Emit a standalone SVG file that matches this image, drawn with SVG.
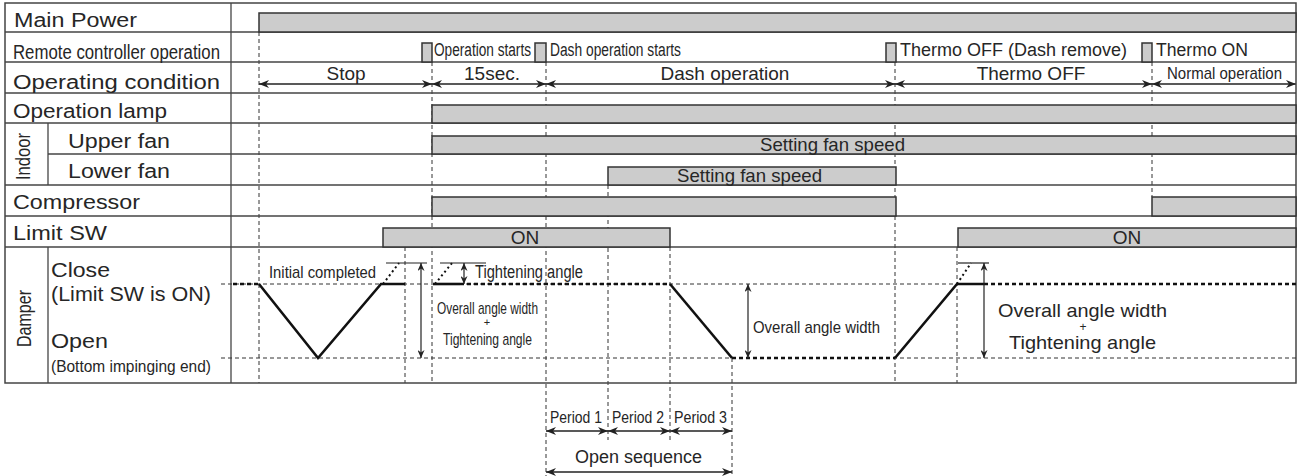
<svg xmlns="http://www.w3.org/2000/svg" width="1298" height="476" viewBox="0 0 1298 476">
<defs>
<style>
text{font-family:"Liberation Sans",Arial,sans-serif;fill:#262626;}
.lbl{font-size:20px;}
.sm{font-size:18px;}
.cond{font-size:18px;}
.frame{fill:none;stroke:#444;stroke-width:1.5;}
.row{stroke:#444;stroke-width:1.3;fill:none;}
.bar{fill:#cccccc;stroke:#333;stroke-width:1.5;}
.vd{stroke:#333;stroke-width:1;stroke-dasharray:4,3;fill:none;}
.ref{stroke:#333;stroke-width:1;stroke-dasharray:4,3;fill:none;}
.st{stroke:#111;stroke-width:2.6;stroke-dasharray:4,3;fill:none;}
.thick{stroke:#111;stroke-width:2.6;fill:none;stroke-linejoin:miter;}
.dot{stroke:#111;stroke-width:2;stroke-dasharray:2,3;fill:none;}
.dim{stroke:#222;stroke-width:1.2;fill:none;}
.arr{stroke:#222;stroke-width:1.5;fill:none;marker-start:url(#ah);marker-end:url(#ah);}
.darr{stroke:#222;stroke-width:1.2;fill:none;marker-start:url(#ah2);marker-end:url(#ah2);}
</style>
<marker id="ah" viewBox="0 0 10 8" refX="10" refY="4" markerWidth="10" markerHeight="8" orient="auto-start-reverse" markerUnits="userSpaceOnUse"><path d="M0,0 L10,4 L0,8 L3,4 z" fill="#222"/></marker>
<marker id="ah2" viewBox="0 0 8 7" refX="8" refY="3.5" markerWidth="8" markerHeight="7" orient="auto-start-reverse" markerUnits="userSpaceOnUse"><path d="M0,0 L8,3.5 L0,7 L2.5,3.5 z" fill="#222"/></marker>
</defs>
<rect width="1298" height="476" fill="#fff"/>

<g id="connectors">
<line class="vd" x1="259" y1="32" x2="259" y2="383"/>
<line class="vd" x1="405" y1="247" x2="405" y2="383"/>
<line class="vd" x1="432" y1="62" x2="432" y2="383"/>
<line class="vd" x1="546" y1="62" x2="546" y2="476"/>
<line class="vd" x1="608" y1="185" x2="608" y2="440"/>
<line class="vd" x1="670" y1="247" x2="670" y2="440"/>
<line class="vd" x1="732" y1="358" x2="732" y2="476"/>
<line class="vd" x1="895" y1="62" x2="895" y2="383"/>
<line class="vd" x1="957" y1="247" x2="957" y2="383"/>
<line class="vd" x1="1152" y1="62" x2="1152" y2="197"/>
<line class="arr" x1="259" y1="84" x2="432" y2="84"/>
<line class="arr" x1="432" y1="84" x2="546" y2="84"/>
<line class="arr" x1="546" y1="84" x2="895" y2="84"/>
<line class="arr" x1="895" y1="84" x2="1152" y2="84"/>
<line class="arr" x1="1152" y1="84" x2="1296" y2="84"/>
<line class="arr" x1="546" y1="431" x2="608" y2="431"/>
<line class="arr" x1="608" y1="431" x2="670" y2="431"/>
<line class="arr" x1="670" y1="431" x2="732" y2="431"/>
<line class="arr" x1="546" y1="472" x2="732" y2="472"/>
</g>

<g id="frame">
<rect class="frame" x="5" y="3" width="1291" height="380"/>
<line class="row" x1="231" y1="3" x2="231" y2="383"/>
<line class="row" x1="5" y1="32" x2="1296" y2="32"/>
<line class="row" x1="5" y1="62" x2="1296" y2="62"/>
<line class="row" x1="5" y1="93" x2="1296" y2="93"/>
<line class="row" x1="5" y1="123" x2="1296" y2="123"/>
<line class="row" x1="48" y1="154" x2="1296" y2="154"/>
<line class="row" x1="5" y1="185" x2="1296" y2="185"/>
<line class="row" x1="5" y1="216" x2="1296" y2="216"/>
<line class="row" x1="5" y1="247" x2="1296" y2="247"/>
<line class="row" x1="48" y1="123" x2="48" y2="185"/>
<line class="row" x1="48" y1="247" x2="48" y2="383"/>
</g>

<g id="main-power">
<text class="lbl" x="14" y="27" textLength="123" lengthAdjust="spacingAndGlyphs">Main Power</text>
<rect class="bar" x="259" y="13" width="1037" height="19"/>
</g>

<g id="remote">
<text class="lbl" x="13" y="59" textLength="207" lengthAdjust="spacingAndGlyphs">Remote controller operation</text>
<rect class="bar" x="422" y="43" width="10" height="19"/>
<text class="cond" x="434" y="56" textLength="97" lengthAdjust="spacingAndGlyphs">Operation starts</text>
<rect class="bar" x="535" y="43" width="11" height="19"/>
<text class="cond" x="550" y="56" textLength="131" lengthAdjust="spacingAndGlyphs">Dash operation starts</text>
<rect class="bar" x="886" y="43" width="10" height="19"/>
<text class="sm" x="900" y="56" textLength="227" lengthAdjust="spacingAndGlyphs">Thermo OFF (Dash remove)</text>
<rect class="bar" x="1142" y="43" width="10" height="19"/>
<text class="sm" x="1156" y="56" textLength="92" lengthAdjust="spacingAndGlyphs">Thermo ON</text>
</g>

<g id="operating-condition">
<text class="lbl" x="13" y="89" textLength="207" lengthAdjust="spacingAndGlyphs">Operating condition</text>
<text x="346" y="80" font-size="19" text-anchor="middle">Stop</text>
<text x="492" y="80" font-size="19" text-anchor="middle">15sec.</text>
<text x="725" y="80" font-size="19" text-anchor="middle">Dash operation</text>
<text x="1031" y="80" font-size="19" text-anchor="middle">Thermo OFF</text>
<text x="1167" y="79" font-size="17" textLength="115" lengthAdjust="spacingAndGlyphs">Normal operation</text>
</g>

<g id="operation-lamp">
<text class="lbl" x="13" y="118" textLength="154" lengthAdjust="spacingAndGlyphs">Operation lamp</text>
<rect class="bar" x="432" y="105" width="864" height="18"/>
</g>

<g id="indoor">
<text class="lbl" font-size="18" transform="translate(30,156.5) rotate(-90)" text-anchor="middle" textLength="47" lengthAdjust="spacingAndGlyphs">Indoor</text>
</g>

<g id="upper-fan">
<text class="lbl" x="68" y="148" textLength="102" lengthAdjust="spacingAndGlyphs">Upper fan</text>
<rect class="bar" x="432" y="136" width="864" height="18"/>
<text x="760" y="151" font-size="19" textLength="145" lengthAdjust="spacingAndGlyphs">Setting fan speed</text>
</g>

<g id="lower-fan">
<text class="lbl" x="68" y="178" textLength="102" lengthAdjust="spacingAndGlyphs">Lower fan</text>
<rect class="bar" x="608" y="167" width="288" height="18"/>
<text x="677" y="182" font-size="19" textLength="145" lengthAdjust="spacingAndGlyphs">Setting fan speed</text>
</g>

<g id="compressor">
<text class="lbl" x="13" y="209" textLength="127" lengthAdjust="spacingAndGlyphs">Compressor</text>
<rect class="bar" x="432" y="197" width="464" height="19"/>
<rect class="bar" x="1152" y="197" width="144" height="19"/>
</g>

<g id="limit-sw">
<text class="lbl" x="13" y="240" textLength="94" lengthAdjust="spacingAndGlyphs">Limit SW</text>
<rect class="bar" x="383" y="228" width="287" height="19"/>
<text x="525" y="244" font-size="19" text-anchor="middle">ON</text>
<rect class="bar" x="958" y="228" width="338" height="19"/>
<text x="1127" y="244" font-size="19" text-anchor="middle">ON</text>
</g>

<g id="damper">
<text class="lbl" font-size="19" transform="translate(31,318.5) rotate(-90)" text-anchor="middle" textLength="57" lengthAdjust="spacingAndGlyphs">Damper</text>
<text class="lbl" x="51" y="277" textLength="59" lengthAdjust="spacingAndGlyphs">Close</text>
<text class="lbl" x="51" y="301" textLength="160" lengthAdjust="spacingAndGlyphs">(Limit SW is ON)</text>
<text class="lbl" x="51" y="348" textLength="57" lengthAdjust="spacingAndGlyphs">Open</text>
<text x="51" y="372" font-size="17" textLength="160" lengthAdjust="spacingAndGlyphs">(Bottom impinging end)</text>
<line class="ref" x1="221" y1="284" x2="1296" y2="284"/>
<line class="ref" x1="221" y1="358" x2="1296" y2="358"/>
<line class="st" x1="233" y1="284" x2="259" y2="284"/>
<line class="st" x1="460" y1="284" x2="670" y2="284"/>
<line class="st" x1="732" y1="358" x2="895" y2="358"/>
<line class="st" x1="984" y1="284" x2="1296" y2="284"/>
<polyline class="thick" points="259,284 318,358 381,284 405,284"/>
<line class="thick" x1="433" y1="284" x2="460" y2="284"/>
<line class="thick" x1="670" y1="284" x2="732" y2="358"/>
<polyline class="thick" points="895,358 957,284 984,284"/>
<line class="dot" x1="383" y1="284" x2="399" y2="263"/>
<line class="dot" x1="435" y1="284" x2="452" y2="263"/>
<line class="dot" x1="957" y1="284" x2="971" y2="263"/>
<line class="dim" x1="386" y1="263" x2="427" y2="263"/>
<line class="darr" x1="421" y1="263" x2="421" y2="358"/>
<line class="dim" x1="440" y1="263" x2="486" y2="263"/>
<line class="darr" x1="464" y1="263" x2="464" y2="284"/>
<line class="darr" x1="748" y1="284" x2="748" y2="358"/>
<line class="dim" x1="958" y1="263" x2="989" y2="263"/>
<line class="darr" x1="984" y1="263" x2="984" y2="358"/>
<text x="269" y="278" font-size="17" textLength="107" lengthAdjust="spacingAndGlyphs">Initial completed</text>
<text x="475" y="278" font-size="18" textLength="108" lengthAdjust="spacingAndGlyphs">Tightening angle</text>
<text x="437" y="314" font-size="17" textLength="101" lengthAdjust="spacingAndGlyphs">Overall angle width</text>
<text x="487" y="326" font-size="11" text-anchor="middle">+</text>
<text x="443" y="345" font-size="17" textLength="89" lengthAdjust="spacingAndGlyphs">Tightening angle</text>
<text x="753" y="333" font-size="17" textLength="127" lengthAdjust="spacingAndGlyphs">Overall angle width</text>
<text x="998" y="317" font-size="19" textLength="169" lengthAdjust="spacingAndGlyphs">Overall angle width</text>
<text x="1083" y="331" font-size="12" text-anchor="middle">+</text>
<text x="1009" y="349" font-size="19" textLength="147" lengthAdjust="spacingAndGlyphs">Tightening angle</text>
</g>

<g id="periods">
<text x="550" y="423" font-size="17" textLength="52" lengthAdjust="spacingAndGlyphs">Period 1</text>
<text x="612" y="423" font-size="17" textLength="52" lengthAdjust="spacingAndGlyphs">Period 2</text>
<text x="674" y="423" font-size="17" textLength="53" lengthAdjust="spacingAndGlyphs">Period 3</text>
<text x="575" y="463" font-size="18" textLength="127" lengthAdjust="spacingAndGlyphs">Open sequence</text>
</g>
</svg>
